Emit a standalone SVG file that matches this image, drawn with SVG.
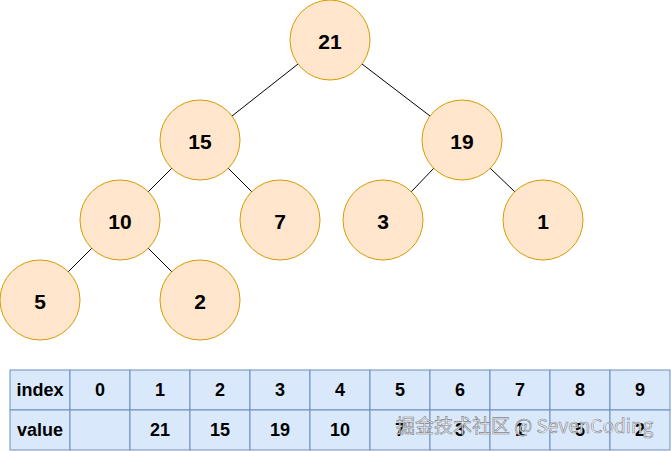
<svg xmlns="http://www.w3.org/2000/svg" width="671" height="451" viewBox="0 0 671 451">
<style>
.n circle{fill:#ffe6cc;stroke:#d79b00;stroke-width:1}
.n text,.t text{font-family:"Liberation Sans",Arial,sans-serif;font-weight:bold;text-anchor:middle;dominant-baseline:central;fill:#000}
.n text{font-size:21px}
.t text{font-size:18px}
.t rect{fill:#dae8fc;stroke:#6c8ebf;stroke-width:1}
.e line{stroke:#000;stroke-width:1}
.wm{font-family:"Noto Sans CJK SC","Liberation Sans",sans-serif;font-size:19px;fill:#f2f2f2;fill-opacity:0.9;stroke:#666;stroke-width:0.6;stroke-opacity:0.8}
</style>
<rect width="671" height="451" fill="#fff"/>
<g id="edges" class="e">
<line x1="298" y1="64" x2="232" y2="116"/>
<line x1="362" y1="64" x2="430" y2="116"/>
<line x1="172" y1="168" x2="148" y2="192"/>
<line x1="228" y1="168" x2="252" y2="192"/>
<line x1="434" y1="168" x2="411" y2="192"/>
<line x1="490" y1="168" x2="515" y2="192"/>
<line x1="92" y1="248" x2="68" y2="272"/>
<line x1="148" y1="248" x2="172" y2="272"/>
</g>
<g id="n21" class="n"><circle cx="330" cy="40" r="40"/><text x="330" y="41">21</text></g>
<g id="n15" class="n"><circle cx="200" cy="140" r="40"/><text x="200" y="141">15</text></g>
<g id="n19" class="n"><circle cx="462" cy="140" r="40"/><text x="462" y="141">19</text></g>
<g id="n10" class="n"><circle cx="120" cy="220" r="40"/><text x="120" y="221">10</text></g>
<g id="n7" class="n"><circle cx="280" cy="220" r="40"/><text x="280" y="221">7</text></g>
<g id="n3" class="n"><circle cx="383" cy="220" r="40"/><text x="383" y="221">3</text></g>
<g id="n1" class="n"><circle cx="543" cy="220" r="40"/><text x="543" y="221">1</text></g>
<g id="n5" class="n"><circle cx="40" cy="300" r="40"/><text x="40" y="301">5</text></g>
<g id="n2" class="n"><circle cx="200" cy="300" r="40"/><text x="200" y="301">2</text></g>
<g id="table" class="t">
<rect x="10" y="370" width="60" height="40"/><text x="40" y="390">index</text>
<rect x="70" y="370" width="60" height="40"/><text x="100" y="390">0</text>
<rect x="130" y="370" width="60" height="40"/><text x="160" y="390">1</text>
<rect x="190" y="370" width="60" height="40"/><text x="220" y="390">2</text>
<rect x="250" y="370" width="60" height="40"/><text x="280" y="390">3</text>
<rect x="310" y="370" width="60" height="40"/><text x="340" y="390">4</text>
<rect x="370" y="370" width="60" height="40"/><text x="400" y="390">5</text>
<rect x="430" y="370" width="60" height="40"/><text x="460" y="390">6</text>
<rect x="490" y="370" width="60" height="40"/><text x="520" y="390">7</text>
<rect x="550" y="370" width="60" height="40"/><text x="580" y="390">8</text>
<rect x="610" y="370" width="60" height="40"/><text x="640" y="390">9</text>
<rect x="10" y="410" width="60" height="40"/><text x="40" y="430">value</text>
<rect x="70" y="410" width="60" height="40"/>
<rect x="130" y="410" width="60" height="40"/><text x="160" y="430">21</text>
<rect x="190" y="410" width="60" height="40"/><text x="220" y="430">15</text>
<rect x="250" y="410" width="60" height="40"/><text x="280" y="430">19</text>
<rect x="310" y="410" width="60" height="40"/><text x="340" y="430">10</text>
<rect x="370" y="410" width="60" height="40"/><text x="400" y="430">7</text>
<rect x="430" y="410" width="60" height="40"/><text x="460" y="430">3</text>
<rect x="490" y="410" width="60" height="40"/><text x="520" y="430">1</text>
<rect x="550" y="410" width="60" height="40"/><text x="580" y="430">5</text>
<rect x="610" y="410" width="60" height="40"/><text x="640" y="430">2</text>
</g>
<text class="wm" x="396" y="433">掘金技术社区 @ SevenCoding</text>
</svg>
